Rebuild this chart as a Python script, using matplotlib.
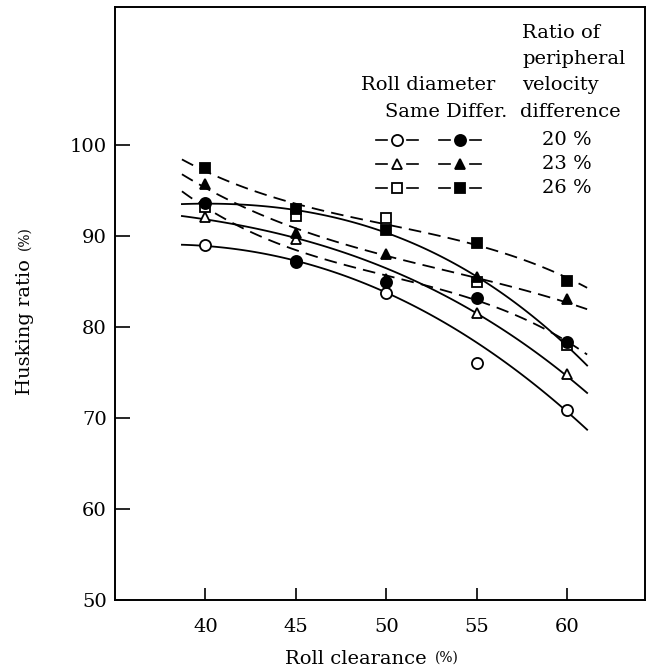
import numpy as np
import matplotlib
matplotlib.use("Agg")
import matplotlib.pyplot as plt

plt.rcParams['font.family'] = ['DejaVu Serif']

# Measured points
clearance = [40, 45, 50, 55, 60]
same_20 = [89.0, 87.3, 83.7, 76.1, 70.9]
same_23 = [92.1, 89.7, 85.3, 81.6, 74.8]
same_26 = [93.2, 92.2, 92.0, 85.0, 78.0]
diff_20 = [93.7, 87.2, 85.0, 83.2, 78.4]
diff_23 = [95.7, 90.3, 88.0, 85.5, 83.1]
diff_26 = [97.5, 93.0, 90.7, 89.2, 85.1]

# Fitted curves as drawn in the chart (read at these clearances)
curve_x = [38.7, 40, 45, 50, 55, 60, 61.1]
same_20_curve = [89.0, 89.0, 87.3, 83.8, 78.2, 71.0, 68.5]
same_23_curve = [92.1, 92.0, 89.8, 86.4, 81.5, 74.8, 72.6]
same_26_curve = [93.6, 93.5, 92.8, 90.6, 85.3, 78.2, 75.6]
diff_20_curve = [94.7, 93.5, 88.4, 85.6, 83.0, 78.5, 76.9]
diff_23_curve = [96.6, 95.6, 90.8, 87.8, 85.4, 82.9, 81.8]
diff_26_curve = [98.2, 97.5, 93.4, 91.3, 89.1, 85.3, 84.4]

velocity_labels = ["20 %", "23 %", "26 %"]
xticks = [40, 45, 50, 55, 60]
yticks = [50, 60, 70, 80, 90, 100]

W, H = 650, 670
fig = plt.figure(figsize=(6.5, 6.7), dpi=100)
ax = fig.add_axes([115 / W, 1 - 600 / H, (645 - 115) / W, (600 - 7) / H])
ax.set_xlim(35.0, 64.3)
ax.set_ylim(50, 115.2)

dash = (0, (7, 4))
series = [
    (same_20, same_20_curve, 'o', 'white', '-'),
    (same_23, same_23_curve, '^', 'white', '-'),
    (same_26, same_26_curve, 's', 'white', '-'),
    (diff_20, diff_20_curve, 'o', 'black', dash),
    (diff_23, diff_23_curve, '^', 'black', dash),
    (diff_26, diff_26_curve, 's', 'black', dash),
]
for vals, cv, mk, fc, ls in series:
    coef = np.polyfit(curve_x, cv, 3)
    xs = np.linspace(curve_x[0], curve_x[-1], 120)
    ax.plot(xs, np.polyval(coef, xs), color='black', lw=1.3, ls=ls, zorder=2)
for vals, cv, mk, fc, ls in series:
    ax.plot(clearance, vals, ls='none', marker=mk, ms=8 if mk == 'o' else 7,
            mfc=fc, mec='black', mew=1.3, zorder=3)

ax.set_xticks(xticks)
ax.set_yticks(yticks)
ax.tick_params(axis='both', direction='in', labelsize=14, width=1.2)
ax.tick_params(axis='x', length=9, pad=13)
ax.tick_params(axis='y', length=11, pad=6)
for s in ax.spines.values():
    s.set_linewidth(1.4)

# Axis labels
fig.text(427 / W, 1 - 659 / H, "Roll clearance", ha='right', va='center', fontsize=14)
fig.text(435 / W, 1 - 658 / H, "(%)", ha='left', va='center', fontsize=10)
fig.text(25 / W, 1 - 395 / H, "Husking ratio", rotation=90, ha='center', va='bottom', fontsize=14)
fig.text(25 / W, 1 - 250 / H, "(%)", rotation=90, ha='center', va='bottom', fontsize=10)

# Legend (manual)
fs = 14
fig.text(522 / W, 1 - 33 / H, "Ratio of", ha='left', va='center', fontsize=fs)
fig.text(522 / W, 1 - 59 / H, "peripheral", ha='left', va='center', fontsize=fs)
fig.text(522 / W, 1 - 85 / H, "velocity", ha='left', va='center', fontsize=fs)
fig.text(520 / W, 1 - 112 / H, "difference", ha='left', va='center', fontsize=fs)
fig.text(495 / W, 1 - 85 / H, "Roll diameter", ha='right', va='center', fontsize=fs)
fig.text(507 / W, 1 - 112 / H, "Same Differ.", ha='right', va='center', fontsize=fs)

rows_y = [140, 164, 188]
mks = ['o', '^', 's']
for i, (ry, mk, lab) in enumerate(zip(rows_y, mks, velocity_labels)):
    yf = 1 - ry / H
    for cx, fc in [(397, 'white'), (460, 'black')]:
        for a, b in [(cx - 21, cx - 10), (cx + 10, cx + 21)]:
            fig.add_artist(plt.Line2D([a / W, b / W], [yf, yf], color='black', lw=1.2))
        fig.add_artist(plt.Line2D([cx / W], [yf], marker=mk, ms=8 if mk == 'o' else 7,
                                  mfc=fc, mec='black', mew=1.3, ls='none'))
    fig.text(542 / W, yf, lab, ha='left', va='center', fontsize=fs)

fig.savefig("out.png", dpi=100)
